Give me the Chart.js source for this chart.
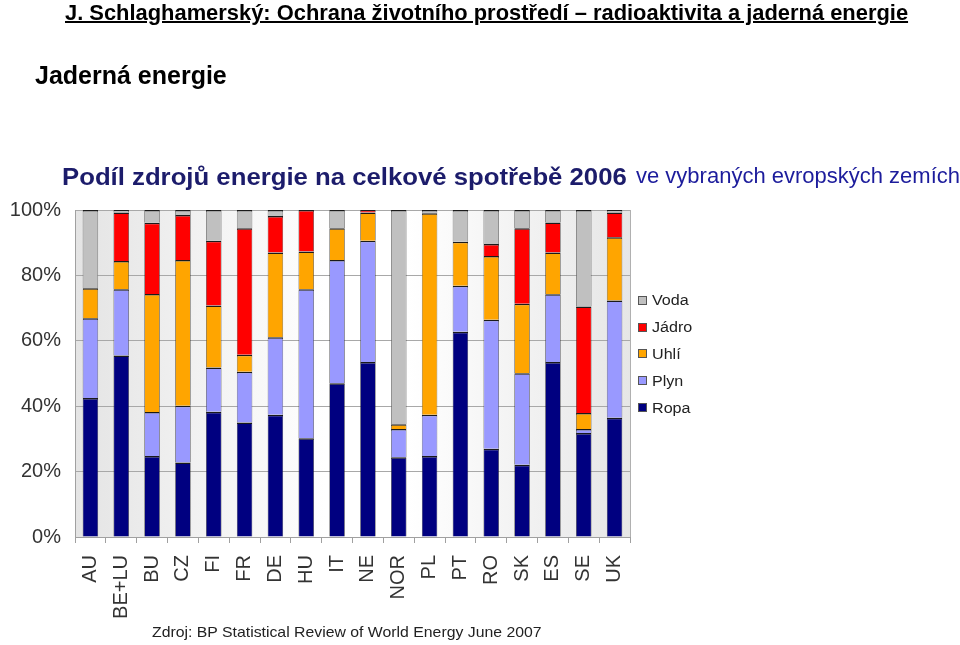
<!DOCTYPE html>
<html><head><meta charset="utf-8">
<script src="https://cdn.jsdelivr.net/npm/chart.js@4"></script>
<style>
html,body{margin:0;padding:0;background:#fff;}
#wrap{position:relative;width:960px;height:645px;overflow:hidden;}
canvas{position:absolute;left:0;top:0;}
.t{position:absolute;white-space:nowrap;transform-origin:0 0;}
#h1{left:65px;top:0px;font:bold 22px "Liberation Sans",Arial,sans-serif;text-decoration:underline;text-decoration-thickness:1.5px;color:#000;transform:scaleX(0.995);}
#h2{left:35px;top:61px;font:bold 25px "Liberation Sans",Arial,sans-serif;color:#000;}
#ct{left:62px;top:163px;font:bold 24px "Liberation Sans",Arial,sans-serif;color:#1c1c6b;transform:scaleX(1.072);}
#ct2{left:636px;top:163px;font:22px "Liberation Sans",Arial,sans-serif;color:#1c1c9c;}
#src{left:152px;top:623px;font:15px "Liberation Sans",Arial,sans-serif;color:#222;transform:scaleX(1.054);}
#leg{position:absolute;left:638px;top:287px;font:14px "Liberation Sans",Arial,sans-serif;color:#222;}
#leg div{height:26.8px;display:flex;align-items:center;}
#leg span.b{display:inline-block;width:7px;height:7px;border:1px solid #555;margin-right:5px;}
#leg span.l{display:inline-block;transform:scaleX(1.15);transform-origin:0 50%;}
</style></head>
<body><div id="wrap">
<canvas id="c" width="960" height="645"></canvas>
<div class="t" id="h1">J. Schlaghamerský: Ochrana životního prostředí – radioaktivita a jaderná energie</div>
<div class="t" id="h2">Jaderná energie</div>
<div class="t" id="ct">Podíl zdrojů energie na celkové spotřebě 2006</div>
<div class="t" id="ct2">ve vybraných evropských zemích</div>
<div class="t" id="src">Zdroj: BP Statistical Review of World Energy June 2007</div>
<div id="leg"></div>
</div>
<script>
const countries = ["AU","BE+LU","BU","CZ","FI","FR","DE","HU","IT","NE","NOR","PL","PT","RO","SK","ES","SE","UK"];
const ropa  = [42.5,55.5,24.8,22.8,38.3,35.0,37.4,30.2,47.0,53.5,24.4,24.8,62.8,27.0,22.1,53.5,31.8,36.5];
const plyn  = [24.4,20.3,13.4,17.3,13.5,15.5,23.7,45.6,37.7,37.1, 8.6,12.6,14.0,39.4,28.0,20.7, 1.2,35.8];
const uhli  = [ 9.2, 8.6,36.1,44.6,19.0, 5.2,25.9,11.5, 9.7, 8.6, 1.5,61.6,13.5,19.5,21.2,12.8, 4.9,19.4];
const jadro = [ 0.0,14.8,21.8,13.8,19.8,38.7,11.2,12.7, 0.0, 0.8, 0.0, 0.0, 0.0, 3.7,23.1, 9.2,32.6, 7.5];
const voda  = [23.9, 0.8, 3.9, 1.5, 9.4, 5.6, 1.8, 0.0, 5.6, 0.0,65.5, 1.0, 9.7,10.4, 5.6, 3.8,29.5, 0.8];
const yTicks = [0,20,40,60,80,100];

const series = [
  {label:"Ropa", data:ropa, color:"#000080"},
  {label:"Plyn", data:plyn, color:"#9999ff"},
  {label:"Uhlí", data:uhli, color:"#ffa500"},
  {label:"Jádro", data:jadro, color:"#ff0000"},
  {label:"Voda", data:voda, color:"#c0c0c0"}
];

const leg = document.getElementById('leg');
series.slice().reverse().forEach(s=>{
  const d=document.createElement('div');
  d.innerHTML='<span class="b" style="background:'+s.color+'"></span><span class="l">'+s.label+'</span>';
  leg.appendChild(d);
});

const bgPlugin = {
  id:'bg',
  beforeDraw(chart){
    const {ctx, chartArea:a} = chart;
    const g = ctx.createLinearGradient(a.left,0,a.right,0);
    g.addColorStop(0,'#e4e4e4');
    g.addColorStop(0.45,'#ffffff');
    g.addColorStop(0.6,'#ffffff');
    g.addColorStop(1,'#e6e6e6');
    ctx.save();
    ctx.fillStyle=g;
    ctx.fillRect(a.left,a.top,a.right-a.left,a.bottom-a.top);
    ctx.restore();
  },
  afterDatasetsDraw(chart){
    const {ctx, chartArea:a} = chart;
    ctx.save();
    ctx.strokeStyle='#b0b0b0';ctx.lineWidth=1;
    ctx.beginPath();
    ctx.moveTo(a.right+0.5,a.top);ctx.lineTo(a.right+0.5,a.bottom);
    ctx.stroke();
    ctx.restore();
  }
};

new Chart(document.getElementById('c'),{
  type:'bar',
  data:{labels:countries, datasets:series.map(s=>({label:s.label,data:s.data,backgroundColor:s.color,borderColor:'#1a1a1a',borderWidth:{top:1.5,bottom:0,left:0.6,right:0.6},borderSkipped:false,barPercentage:0.5,categoryPercentage:1}))},
  options:{
    responsive:false, animation:false,
    layout:{padding:{left:0,top:210,right:330,bottom:0}},
    plugins:{legend:{display:false},tooltip:{enabled:false},title:{display:false}},
    scales:{
      x:{stacked:true,
         afterFit(s){s.height=108;},
         grid:{display:true,drawOnChartArea:false,offset:true,tickLength:6,color:'#a0a0a0'},
         border:{color:'#a0a0a0'},
         ticks:{minRotation:90,maxRotation:90,padding:12,color:'#333',font:{family:'"Liberation Sans",Arial',size:20}}},
      y:{stacked:true,min:0,max:100,
         afterFit(s){s.width=75;},
         afterBuildTicks(s){s.ticks=yTicks.map(v=>({value:v}));},
         grid:{color:'#a8a8a8',tickLength:0},
         border:{color:'#a0a0a0'},
         ticks:{padding:14,color:'#333',font:{family:'"Liberation Sans",Arial',size:20},callback:v=>v+'%'}}
    }
  },
  plugins:[bgPlugin]
});
</script>
</body></html>
